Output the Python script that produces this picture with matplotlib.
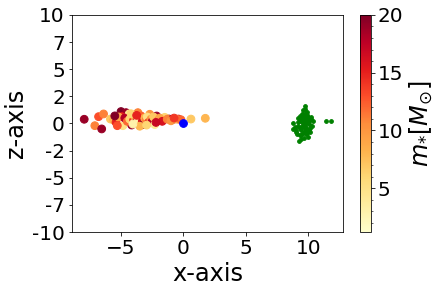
import matplotlib
matplotlib.use("Agg")
import matplotlib.pyplot as plt
import numpy as np

# stars: x, z, mass
star_x = [-7.95, -7.1, -6.55, -6.8, -6.4, -5.85, -5.6, -5.4, -5.0, -4.6,
          -4.85, -4.35, -4.95, -4.15, -3.65, -2.7, -2.15, -1.5, -1.15, -0.4,
          0.6, 1.75, -5.2, -4.7, -4.5, -4.3, -4.0, -3.9, -3.8, -3.6,
          -3.4, -3.3, -3.2, -3.1, -3.0, -2.9, -2.8, -2.6, -2.5, -2.4,
          -2.3, -2.0, -1.9, -1.7, -1.3, -0.9, -0.6, -5.5, -5.3, -4.2,
          -3.5, -2.2, -0.2, -4.05, -3.75, -2.95, -1.0, -0.75]
star_z = [0.39, -0.2, -0.5, 0.63, 0.88, 0.41, 0.32, 0.11, 1.1, 1.0,
          -0.2, 0.88, 0.63, -0.14, 1.0, 0.85, 0.69, 0.57, 0.41, 0.41,
          0.41, 0.48, 0.6, 0.5, 0.2, 0.4, 0.3, 0.6, 0.1, 0.4,
          0.7, 0.2, -0.1, 0.5, 0.3, 0.6, 0.1, 0.4, 0.2, 0.6,
          -0.1, 0.3, 0.5, 0.2, 0.4, 0.35, 0.4, 0.7, -0.2, 0.9,
          -0.25, 0.1, 0.35, -0.05, 0.75, -0.15, 0.25, 0.5]
star_m = [19, 11, 19, 13, 11, 7, 8, 15, 20, 19,
          5, 4, 15, 19, 11, 10, 19, 6, 19, 15,
          7, 8, 9, 18, 12, 6, 14, 9, 17, 3,
          12, 16, 20, 8, 11, 5, 14, 10, 18, 7,
          4, 13, 9, 16, 11, 18, 9, 20, 13, 6,
          8, 17, 12, 3, 15, 6, 10, 14]

# dark matter / gas: x, z
dm_x = [9.75, 9.6, 9.8, 9.9, 9.5, 9.7, 9.65, 9.85, 9.55, 9.75,
        9.4, 9.95, 10.05, 9.3, 9.6, 9.8, 9.7, 9.45, 9.9, 10.1,
        9.2, 9.35, 9.55, 9.75, 9.85, 10.0, 9.6, 9.5, 9.7, 9.9,
        9.15, 9.05, 8.9, 8.75, 9.3, 9.45, 10.2, 10.3, 10.15, 9.95,
        9.65, 9.4, 9.25, 9.1, 8.8, 9.0, 10.4, 10.25, 9.8, 9.55,
        9.7, 9.6, 9.85, 10.05, 9.35, 9.2, 9.75, 9.5, 9.9, 10.1,
        11.4, 11.8]
dm_z = [1.6, 1.2, 1.0, 0.8, 0.9, 0.6, 0.3, 0.4, 0.1, -0.1,
        0.5, 0.0, 0.2, 0.2, -0.3, -0.5, -0.7, -0.6, -0.9, -0.4,
        -0.2, 0.7, 0.9, 1.3, 0.3, 0.6, 0.0, -0.2, 0.2, 0.1,
        0.5, -0.8, -0.3, 0.0, -1.1, -1.4, 0.4, -0.2, -0.8, -1.2,
        -1.3, -1.1, -1.6, -1.0, -0.5, -0.6, 0.2, 0.6, -1.0, -0.9,
        -0.3, 0.4, -0.4, -0.6, -0.4, 0.1, 0.8, 0.6, 1.1, -0.1,
        0.2, 0.2]

bh_x = [0.0]
bh_z = [0.0]

plt.rcParams['font.size'] = 20
fig = plt.figure(figsize=(441 / 72, 293 / 72), dpi=72)
ax = fig.add_axes([0.163, 0.208, 0.615, 0.741])
cax = fig.add_axes([0.816, 0.208, 0.025, 0.741])

sc = ax.scatter(star_x, star_z, c=star_m, cmap="YlOrRd", vmin=1.2, vmax=20, s=60)
ax.scatter(dm_x, dm_z, color="green", s=14)
ax.scatter(bh_x, bh_z, color="blue", s=60)

ax.set_ylim(-10, 10)
yt = np.linspace(-10, 10, 9)
ax.set_yticks(yt)
ax.set_yticklabels([str(int(v)) for v in yt])
ax.set_xticks([-5, 0, 5, 10])
ax.set_xlabel("x-axis", fontsize=24)
ax.set_ylabel("z-axis", fontsize=24)

cb = fig.colorbar(sc, cax=cax)
cb.set_ticks([5, 10, 15, 20])
cb.ax.minorticks_on()
cb.set_label(r"$m_{*}[M_{\odot}]$", fontsize=24)

fig.savefig("out.png", dpi=72)
